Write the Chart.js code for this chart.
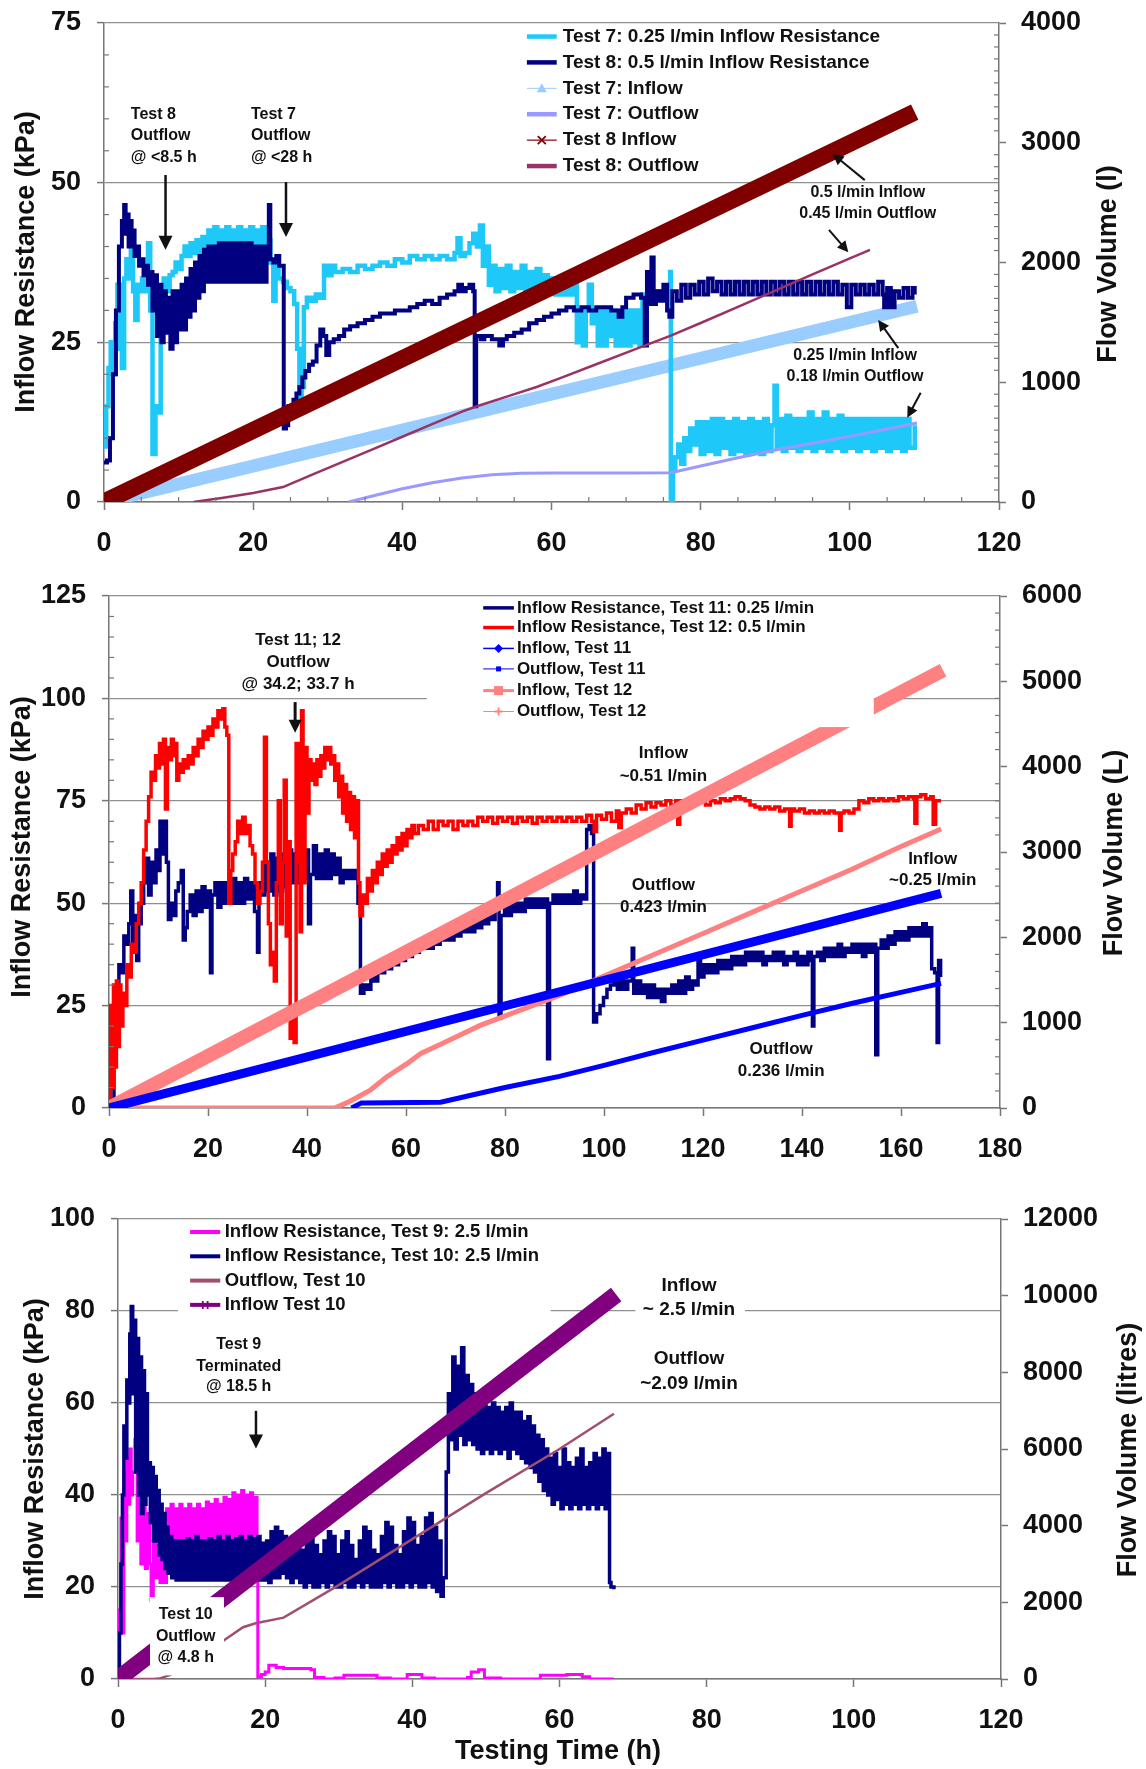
<!DOCTYPE html>
<html>
<head>
<meta charset="utf-8">
<title>Inflow resistance and flow volume, tests 7 to 12</title>
<script src="https://cdn.jsdelivr.net/npm/chart.js@4.4.1/dist/chart.umd.min.js"></script>
<style>
  html, body { margin: 0; padding: 0; background: #fff; }
  #page { position: relative; width: 1146px; height: 1769px; background: #fff; overflow: hidden; }
  #page canvas { position: absolute; left: 0; }
</style>
</head>
<body>
<div id="page">
  <canvas id="panel1" width="1146" height="566" style="top:0;width:1146px;height:566px"></canvas>
  <canvas id="panel2" width="1146" height="614" style="top:566px;width:1146px;height:614px"></canvas>
  <canvas id="panel3" width="1146" height="589" style="top:1180px;width:1146px;height:589px"></canvas>
</div>
<script>
// ---------- panel 1: tests 7 and 8 ----------
const p1TimeTicks = [0, 20, 40, 60, 80, 100, 120];
const p1KpaTicks = [0, 25, 50, 75];
const p1FlowTicks = [0, 1000, 2000, 3000, 4000];

const test7Resistance = [
  [0,8.7],[0.3,15],[0.6,21],[0.9,25],[1.2,20],[1.5,28],[1.8,34],[2.1,24],[2.4,21],[2.7,35],[3,38],[3.3,35],
  [3.6,40],[3.9,33],[4.2,28.5],[4.5,34],[4.8,33],[5.1,35],[5.5,33],[5.9,40.5],[6.2,30],[6.5,7.5],[6.9,15],
  [7.3,14],[7.6,33],[8,35],[8.4,33],[8.8,35.5],[9.2,36],[9.6,37.5],[10,36.5],[10.4,38.5],[10.8,40],[11.2,38.5],
  [11.6,40.5],[12,39],[12.4,41],[12.8,39],[13.2,41.5],[13.6,38.5],[14,42.5],[14.4,38.5],[14.8,43],[15.2,38.5],
  [15.6,42.5],[16,38.5],[16.4,43],[16.8,38.5],[17.2,42.5],[17.6,38.5],[18,43],[18.4,38.5],[18.8,42.5],[19.2,38.5],
  [19.6,43],[20,38.5],[20.4,42.5],[20.8,38.5],[21.2,43],[21.6,39],[22,41],[22.3,37.5],[22.7,31.5],[23,37],
  [23.4,35],[24,34.5],[24.5,33.5],[25,33],[25.5,31],[25.9,24],[26.2,15.5],[26.5,18],[26.8,30.5],[27.2,32],
  [27.8,31.5],[28.4,32.5],[29,32],[29.5,37],[30,35.5],[30.5,37],[31,36],[32,36.5],[33,36],[34,37],[35,36.5],
  [36,37],[37,37.5],[38,37],[39,38],[40,37.5],[41,38.5],[42,38],[43,38.5],[44,38],[45,38.5],[46,38],[47,39],
  [47.4,41.3],[47.8,38.5],[48.4,39],[49,40.5],[49.5,42],[50,40],[50.4,43.3],[50.8,37],[51.2,40],[51.6,34],
  [52,37],[52.5,33],[53,36.5],[53.5,33.5],[54,37],[54.5,33],[55,36],[55.5,33.5],[56,37],[56.5,33],[57,36],
  [57.5,33],[58,36.5],[58.5,32.5],[59,35.5],[59.5,33],[60,35],[60.5,32.5],[61,34.5],[61.5,32.5],[62,34],
  [62.5,32.5],[63,34],[63.4,25],[63.8,30],[64.2,24.5],[64.6,30],[65,34],[65.4,28],[65.8,30],[66.2,24.5],
  [66.6,30],[67,24.5],[67.4,30],[67.8,26],[68.2,30],[68.6,24.5],[69,29],[69.4,24.5],[69.8,30],[70.2,24.5],
  [70.6,30],[71,25],[71.4,30],[71.8,24.5],[72.2,32.5],[73,33],[74,33],[75,33],[75.8,33],[75.9,36],[76,-1.5],
  [76.3,5],[76.6,7],[77,9],[77.4,6],[77.8,10],[78.2,8],[78.6,11.5],[79,9],[79.5,12.5],[80,7.5],[80.5,12.5],
  [81,8],[81.5,13],[82,7.5],[82.5,13],[83,8.5],[83.5,12.5],[84,7.5],[84.5,13],[85,8],[85.5,12.5],[86,7.5],
  [86.5,13],[87,8],[87.5,12.5],[88,7.5],[88.5,13],[89,8],[89.5,12],[89.9,18.2],[90.2,8.5],[90.6,13],[91,8],
  [91.5,13.5],[92,8.5],[92.5,13],[93,8],[93.5,13],[94,8.5],[94.5,14],[95,8],[95.5,13],[96,8.5],[96.5,14],
  [97,8],[97.5,13],[98,8.5],[98.5,13.5],[99,8],[99.5,13],[100,8.5],[100.5,13],[101,8],[101.5,13],[102,8.5],
  [102.5,13],[103,8],[103.5,13],[104,8.5],[104.5,13],[105,8],[105.5,13],[106,8.5],[106.5,13],[107,8],
  [107.5,13],[108,8.5],[108.7,12]
];
const test8Resistance = [
  [0,6.2],[0.4,6.5],[0.8,10],[1.2,20],[1.6,30],[2,40],[2.4,44],[2.7,46.5],[2.9,42],[3.1,45],[3.3,40],[3.5,44],
  [3.7,40],[3.9,42.5],[4.1,38.5],[4.4,40],[4.7,37],[5,38],[5.3,35.5],[5.6,37],[5.9,34],[6.2,36],[6.5,30],
  [6.8,35.5],[7.1,26],[7.4,34],[7.7,25],[8,33],[8.3,26.5],[8.6,32],[8.9,24],[9.2,33],[9.5,25],[9.8,33],
  [10.1,27],[10.4,34],[10.7,27],[11,35],[11.3,29],[11.6,36.5],[11.9,30],[12.2,37.5],[12.5,32],[12.8,38.5],
  [13.1,33],[13.4,39.5],[13.7,34.5],[14,40],[14.3,34.5],[14.6,40],[15,34.5],[15.4,40.5],[15.8,34.5],[16.2,40.5],
  [16.6,34.5],[17,40.5],[17.4,34.5],[17.8,40.5],[18.2,34.5],[18.6,40.5],[19,34.5],[19.4,40.5],[19.8,34.5],
  [20.2,40],[20.6,34.5],[21,40],[21.4,34.5],[21.8,40],[22.1,46.5],[22.3,38],[22.7,37.5],[23.1,38.5],[23.5,37],
  [23.9,37],[24.1,11.5],[24.4,12],[24.7,15],[25,14],[25.4,16],[25.8,17],[26.2,18],[26.6,19.5],[27,20.5],
  [27.5,21.5],[28,22],[28.5,24.5],[29,27],[29.4,26],[29.8,23],[30.2,25],[30.8,25.5],[31.5,26],[32.2,27],
  [33,27.5],[34,28],[35,28.5],[36,29],[37,29.5],[38,29.5],[39,30],[40,30],[41,30.5],[42,31],[43,31.5],[44,31],
  [45,32],[46,32.5],[47,33],[47.5,34],[48,33],[48.5,33.5],[49,34],[49.5,33],[49.7,15],[49.9,26],[50.5,25.5],
  [51,26],[52,25.5],[53,24.5],[53.5,25.5],[54,26],[55,26.5],[56,27],[57,28],[58,28.5],[59,29],[60,29.5],
  [61,30],[62,30.5],[63,30],[64,30.5],[65,30],[66,30.5],[67,30.5],[68,30],[69,29],[69.5,30.5],[70,32],
  [71,32.5],[72,32],[72.5,24.5],[72.8,36],[73.1,31],[73.4,38.3],[73.7,31],[74,33],[74.5,31.5],[75,34],
  [75.5,30],[75.8,29],[76.2,33],[76.8,31.5],[77.4,34],[78,32],[78.6,34],[79.2,32.5],[79.8,34.5],[80.4,32.5],
  [81,35],[81.6,33],[82.2,34.5],[82.8,32.5],[83.4,34.5],[84,32.5],[84.6,34.5],[85.2,32.5],[85.8,34.5],
  [86.4,32.5],[87,34.5],[87.6,32.5],[88.2,34.5],[88.8,32.5],[89.4,34.5],[90,32.5],[90.6,34.5],[91.2,32.5],
  [91.8,34.5],[92.4,32.5],[93,34.5],[93.6,32.5],[94.2,34.5],[94.8,32.5],[95.4,34.5],[96,32.5],[96.6,34.5],
  [97.2,32.5],[97.8,34.5],[98.4,32.5],[99,34],[99.6,30.5],[100.2,34],[100.8,32.5],[101.4,34],[102,32.5],
  [102.6,34],[103.2,32.5],[103.8,34.5],[104.4,32.5],[104.6,30.5],[105,33.5],[105.5,30.5],[106,33],[106.6,32],
  [107.2,33.5],[107.8,32],[108.4,33.5],[108.7,32.5]
];
const test7Inflow = [[0,0],[54.5,818],[109,1635]];
const test7Outflow = [
  [32.8,0],[36,50],[40,110],[44,160],[48,200],[52,228],[56,240],[60,242],[65,243],[70,243],[76,245],
  [80,300],[85,370],[90,434],[95,490],[100,548],[105,610],[109,660]
];
const test8Inflow = [[0,0],[54.4,1628],[108.7,3255]];
const test8Outflow = [
  [12,0],[16,35],[20,75],[24,125],[28,230],[32,335],[36,440],[40,545],[44,650],[48,755],[50,800],[54,880],
  [58,960],[61,1030],[66,1150],[71,1270],[76,1390],[80,1495],[85,1630],[90,1765],[95,1900],[100,2035],[102.7,2105]
];

// ---------- panel 2: tests 11 and 12 ----------
const p2TimeTicks = [0, 20, 40, 60, 80, 100, 120, 140, 160, 180];
const p2KpaTicks = [0, 25, 50, 75, 100, 125];
const p2FlowTicks = [0, 1000, 2000, 3000, 4000, 5000, 6000];

const test11Resistance = [
  [0,0],[0.5,-1],[1,15],[1.5,25],[2,35],[2.5,33],[3,42],[3.5,40],[4,45],[4.4,53],[4.8,40],[5.2,47],[5.6,36],
  [6,45],[6.5,50],[7,55],[7.6,61],[8,52],[8.5,60],[9,55],[9.5,63],[10,58],[10.3,70],[10.8,62],[11.3,70],
  [11.6,60],[12,46],[12.5,50],[13,47],[13.5,53],[14,55],[14.6,58],[15,41],[15.4,44],[15.8,48],[16.4,52],
  [17,47],[17.6,53],[18.2,48],[18.8,54],[19.4,49],[20,53],[20.5,33],[20.8,52],[21.4,55],[22,49],[22.6,55],
  [23.2,50],[23.8,55],[24.4,50],[25,56],[25.6,50],[26.2,55],[26.8,50],[27.4,56],[28,51],[28.7,55],[29.4,48],
  [30,38],[30.3,55],[30.9,52],[31.5,60],[32.1,53],[32.7,62],[33.3,52],[33.9,61],[34.5,53],[35.1,62],[35.7,54],
  [36.3,63],[36.9,55],[37.5,62],[38.1,55],[38.7,64],[39.3,56],[39.9,63],[40.3,45],[40.7,57],[41.3,64],[41.9,56],
  [42.5,62],[43.1,56],[43.7,63],[44.3,56],[44.9,62],[45.5,57],[46.1,61],[46.7,55],[47.3,58],[47.9,56],[48.5,58],
  [49.1,56],[49.7,58],[50.3,50],[50.8,28],[51.5,30],[52.2,29],[52.9,33],[53.6,31],[54.3,35],[55,33],[55.7,36],
  [56.4,34],[57.1,37],[57.8,35],[58.5,38],[59.2,36],[59.9,39],[60.6,37],[61.3,40],[62,38],[62.7,41],[63.4,39],
  [64.1,41],[64.8,39],[65.5,42],[66.2,40],[66.9,43],[67.6,41],[68.3,43],[69,41],[69.7,44],[70.4,42],[71.1,45],
  [71.8,43],[72.5,45],[73.2,43],[73.9,46],[74.6,44],[75.3,47],[76,45],[76.7,48],[77.4,46],[78,49],[78.5,55],
  [78.8,22],[79.2,47],[79.9,49],[80.6,47],[81.3,50],[82,48],[82.7,50],[83.4,48],[84.1,51],[84.8,49],[85.5,51],
  [86.2,49],[86.9,51],[87.6,49],[88.3,51],[88.6,12],[89,50],[89.7,52],[90.4,50],[91.1,52],[91.8,50],[92.5,52],
  [93.2,50],[93.9,53],[94.6,50],[95.3,52],[96,51],[96.5,68],[97,69],[97.5,67],[97.9,21],[98.5,23],[99.2,25],
  [99.9,27],[100.6,29],[101.3,30],[102,31],[102.7,29],[103.4,31],[104.1,29],[104.8,31],[105.7,39],[106,28],
  [106.7,31],[107.4,28],[108.1,30],[108.8,27],[109.5,30],[110.2,27],[110.9,29],[111.6,26],[112.3,29],[113,28],
  [113.7,30],[114.4,28],[115.1,31],[115.8,28],[116.5,32],[117.2,29],[117.9,31],[118.6,30],[119,37],[119.5,32],
  [120.2,35],[120.9,33],[121.6,35],[122.3,33],[123,36],[123.7,34],[124.4,36],[125.1,34],[125.8,37],[126.5,35],
  [127.2,37],[127.9,35],[128.6,38],[129.3,36],[130,38],[130.7,36],[131.4,38],[132.1,35],[132.8,37],[133.5,36],
  [134.2,38],[134.9,36],[135.6,38],[136.3,35],[137,37],[137.7,36],[138.4,38],[139.1,35],[139.8,37],[140.5,35],
  [141.2,38],[141.9,36],[142.1,20],[142.4,37],[143.1,38],[143.8,36],[144.5,39],[145.2,37],[145.9,39],[146.6,37],
  [147.3,40],[148,37],[148.7,39],[149.4,38],[150.1,40],[150.8,38],[151.5,40],[152.2,37],[152.9,40],[153.6,38],
  [154.3,40],[154.9,13],[155.3,39],[156,41],[156.7,39],[157.4,42],[158.1,40],[158.8,43],[159.5,41],[160.2,43],
  [160.9,41],[161.6,44],[162.3,42],[163,44],[163.7,42],[164.4,45],[165.1,42],[165.8,44],[166.2,34],[166.8,33],
  [167.3,16],[167.6,36],[168,32]
];
const test12Resistance = [
  [0,0],[0.3,25],[0.6,5],[0.9,30],[1.2,10],[1.5,31],[1.8,15],[2.1,30],[2.4,20],[2.8,28],[3.2,25],[3.6,35],
  [4,32],[4.5,40],[5,38],[5.5,45],[6,50],[6.5,55],[7,63],[7.5,70],[8,76],[8.5,82],[9,80],[9.4,86],[9.8,83],
  [10.2,89],[10.6,84],[11,90],[11.4,73],[11.8,88],[12.2,85],[12.6,90],[13,86],[13.4,89],[13.7,80],[14.1,84],
  [14.5,82],[15,85],[15.5,83],[16,86],[16.5,84],[17,88],[17.5,86],[18,90],[18.5,88],[19,92],[19.5,90],[20,93],
  [20.5,91],[21,95],[21.5,93],[22,97],[22.5,95],[23,97.5],[23.4,93],[23.8,91],[24.2,50],[24.6,58],[25,62],
  [25.5,65],[26,70],[26.5,67],[27,71],[27.5,67],[28,69],[28.5,64],[29,62],[29.5,55],[30,50],[30.5,53],[31,60],
  [31.4,90.5],[31.8,60],[32.2,45],[32.6,35],[33,38],[33.4,31],[33.8,55],[34.2,75],[34.6,45],[35,60],[35.4,80],
  [35.8,42],[36.2,65],[36.6,17],[37,25],[37.4,16],[37.8,89],[38.2,60],[38.6,43],[38.9,97],[39.2,55],[39.6,88],
  [40,72],[40.4,85],[40.8,80],[41.2,84],[41.6,79],[42,85],[42.4,81],[42.8,86],[43.2,83],[43.6,88],[44,85],
  [44.4,88],[44.8,84],[45.2,86],[45.6,80],[46,84],[46.4,76],[46.8,81],[47.2,72],[47.6,79],[48,70],[48.4,77],
  [48.8,68],[49.2,76],[49.6,66],[50,75],[50.4,55],[50.7,47],[51.2,52],[51.7,50],[52.2,56],[52.7,53],[53.2,58],
  [53.7,55],[54.2,60],[54.7,57],[55.2,62],[55.7,59],[56.2,63],[56.7,60],[57.2,64],[57.7,62],[58.2,66],[58.7,63],
  [59.2,67],[59.7,64],[60.2,68],[60.7,66],[61.2,69],[61.7,67],[62.5,69],[63.5,68],[64.5,70],[65.5,68],[66.5,70],
  [67.5,69],[68.5,70],[69.5,68],[70.5,70],[71.5,69],[72.5,70],[73.5,69],[74.5,71],[75.5,70],[76.5,71],
  [77.5,69.5],[78.5,71],[79.5,70],[80.5,71],[81.5,69.5],[82.5,71],[83.5,70],[84.5,71],[85.5,69.5],[86.5,71],
  [87.5,70],[88.5,71],[89.5,70],[90.5,71],[91.5,70],[92.5,71],[93.5,70],[94.5,71],[95.5,70],[96.5,71.5],
  [97.5,70],[98,67.5],[98.5,71.5],[99.5,70.5],[100.5,72],[101.5,70],[102.5,72.5],[103,68.5],[103.5,72],
  [104.5,73],[105.5,72],[106.5,74],[107.5,73],[108.5,74.5],[109.5,73.5],[110.5,74.5],[111.5,74],[112.5,75],
  [113.5,74],[114.5,75],[114.9,69.3],[115.3,75],[116.5,74.5],[117.5,75.5],[118.5,74.5],[119.5,75],[120.5,74],
  [121.5,75],[122.5,74.5],[123.5,75.5],[124.5,75],[125.5,75.5],[126.5,76],[127.5,75.5],[128.5,75],[129.5,74],
  [130.5,73.5],[131.5,73],[132.5,73.5],[133.5,73],[134.5,73.5],[135.5,72.5],[136.5,73],[137.5,68.8],[137.8,73],
  [138.5,72.5],[139.5,73],[140.5,72],[141.5,72.5],[142.5,72],[143.5,72.5],[144.5,72],[145.5,72.5],[146.5,72],
  [147.6,67.8],[147.9,72],[148.5,72.5],[149.5,72],[150.5,73],[151.5,75],[152.5,74.5],[153.5,75.5],[154.5,75],
  [155.5,75.5],[156.5,75],[157.5,75.5],[158.5,75],[159.5,76],[160.5,75.5],[161.5,76],[162.5,75.5],[162.8,69.5],
  [163.2,76],[164,76.5],[165,75.5],[166,76],[166.5,69.3],[167,75],[168.1,75]
];
const test11Inflow = [[0,0],[84,1257],[168.1,2515]];
const test11Outflow = [
  [49,0],[51,60],[67,68],[80,240],[91,370],[100,500],[110,650],[120,795],[130,940],[140,1085],
  [150,1225],[160,1355],[168.1,1461]
];
const test12Inflow = [[0,0],[84,2557],[168.5,5130]];
const test12Outflow = [
  [0,0],[45.6,0],[48,60],[50,120],[52.7,205],[56,360],[60.2,519],[63,640],[66.9,744],[75,968],[91,1320],
  [100,1545],[110,1795],[120,2045],[130,2295],[140,2545],[150,2795],[160,3065],[168.1,3270]
];

// ---------- panel 3: tests 9 and 10 ----------
const p3TimeTicks = [0, 20, 40, 60, 80, 100, 120];
const p3KpaTicks = [0, 20, 40, 60, 80, 100];
const p3FlowTicks = [0, 2000, 4000, 6000, 8000, 10000, 12000];

const test9Resistance = [
  [0,0],[0.2,15],[0.4,35],[0.6,10],[0.8,45],[1,30],[1.2,48],[1.4,38],[1.6,50],[1.8,40],[2,45],[2.3,52],
  [2.6,30],[2.9,50],[3.1,25],[3.4,40],[3.7,24],[4,36],[4.3,25],[4.5,17],[4.8,30],[5.1,22],[5.4,29],[5.7,21],
  [6,28],[6.3,21],[6.6,37],[6.9,28],[7.2,38],[7.5,29],[7.8,37],[8.1,29],[8.4,38],[8.7,29],[9,37],[9.3,29],
  [9.6,38],[9.9,29],[10.2,37],[10.5,29],[10.8,38],[11.1,29],[11.4,37],[11.7,29],[12,38.5],[12.3,29],[12.6,38],
  [12.9,29],[13.2,39],[13.5,29],[13.8,38],[14.1,29],[14.4,39.5],[14.7,29],[15,39],[15.3,29],[15.6,40.5],
  [15.9,29],[16.2,40],[16.5,29],[16.8,41],[17.1,29],[17.4,40],[17.7,29],[18,40.5],[18.3,29],[18.6,39.5],
  [18.9,29],[19,0.5],[19.5,1],[20,1.5],[20.5,3],[21.5,2.5],[22.5,2.3],[23.5,2.3],[24.5,2.3],[25.5,2.3],
  [26.2,2],[26.7,0.3],[28,0],[29.5,0.2],[30.7,0.8],[32,0.8],[33.5,0.8],[35.2,0.2],[37,0],[39.3,1],[40.5,1],
  [41.3,0.2],[43,0],[45,0],[47.5,0.3],[48,1.5],[49,2],[49.8,0.2],[52,0],[54,0],[56,0],[57.4,0.8],[59,0.8],
  [61,1],[62.6,1],[63.1,0.5],[64.1,0],[66,0],[67.4,0]
];
const test10Resistance = [
  [0,0],[0.2,10],[0.4,25],[0.6,40],[0.8,55],[1,48],[1.2,65],[1.4,60],[1.6,75],[1.8,81],[2,62],[2.2,78],
  [2.4,45],[2.6,74],[2.8,40],[3,70],[3.2,36],[3.4,67],[3.6,38],[3.8,62],[4,40],[4.2,47],[4.4,34],[4.6,46],
  [4.8,30],[5,44],[5.2,30],[5.4,41],[5.6,27],[5.8,38],[6,26],[6.2,36],[6.4,24],[6.6,33],[6.8,23],[7,31],
  [7.3,22],[7.6,30],[7.9,21.5],[8.2,30],[8.5,21.5],[8.8,30],[9.1,21.5],[9.4,30.5],[9.7,21.5],[10,30],
  [10.3,21.5],[10.6,31],[10.9,21.5],[11.2,30],[11.5,21.5],[11.8,30],[12.1,21.5],[12.4,30.5],[12.7,21.5],
  [13,30],[13.3,21.5],[13.6,31],[13.9,21.5],[14.2,30],[14.5,21.5],[14.8,31],[15.1,21.5],[15.4,30],[15.7,21.5],
  [16,30.5],[16.3,21.5],[16.6,31],[16.9,21.5],[17.2,30],[17.5,21.5],[17.8,31],[18.1,21.5],[18.4,30.5],
  [18.7,21.5],[19,31],[19.3,21.5],[19.6,29.5],[19.9,21.5],[20.2,30],[20.5,21],[20.8,32],[21.1,22],[21.4,33],
  [21.7,22],[22,32],[22.3,23],[22.6,31],[22.9,22],[23.2,30],[23.5,21],[23.8,28],[24.1,22],[24.4,29],[24.7,21],
  [25,28],[25.3,20],[25.6,31],[25.9,21],[26.2,32],[26.5,20],[26.8,29],[27.1,20],[27.4,27],[27.7,21],[28,30],
  [28.3,20],[28.6,32],[28.9,21],[29.2,31],[29.5,20],[29.8,27],[30.1,20],[30.4,30],[30.7,21],[31,32],[31.3,20],
  [31.6,29],[31.9,20],[32.2,26],[32.5,21],[32.8,30],[33.1,20],[33.4,33],[33.7,21],[34,32],[34.3,20],[34.6,28],
  [34.9,20],[35.2,27],[35.5,20],[35.8,31],[36.1,21],[36.4,34],[36.7,20],[37,33],[37.3,21],[37.6,29],[37.9,20],
  [38.2,27],[38.5,20],[38.8,32],[39.1,21],[39.4,35],[39.7,20],[40,34],[40.3,21],[40.6,29],[40.9,20],[41.2,31],
  [41.5,20],[41.8,35],[42.1,21],[42.4,36],[42.7,20],[43,33],[43.3,19],[43.6,30],[43.9,18],[44.2,22],[44.6,45],
  [44.9,62],[45.2,52],[45.5,70],[45.8,50],[46.1,68],[46.4,53],[46.7,72],[47,51],[47.3,66],[47.6,52],[47.9,64],
  [48.2,51],[48.5,62],[48.8,50],[49.1,61],[49.4,49],[49.7,60],[50,50],[50.3,59],[50.6,49],[50.9,60],[51.2,50],
  [51.5,59],[51.8,49],[52.1,58],[52.4,50],[52.7,59],[53,48],[53.3,60],[53.6,50],[53.9,58],[54.2,49],[54.5,58],
  [54.8,48],[55.1,56],[55.4,47],[55.7,57],[56,46],[56.3,55],[56.6,45],[56.9,53],[57.2,43],[57.5,52],[57.8,41],
  [58.1,50],[58.4,40],[58.7,48],[59,38],[59.3,49],[59.6,39],[59.9,46],[60.2,37],[60.5,50],[60.8,38],[61.1,47],
  [61.4,37],[61.7,46],[62,38],[62.3,48],[62.6,37],[62.9,50],[63.2,38],[63.5,46],[63.8,37],[64.1,47],[64.4,38],
  [64.7,49],[65,37],[65.3,48],[65.6,38],[65.9,50],[66.2,37],[66.6,49],[66.8,21],[67,20],[67.4,19.5]
];
const test10Outflow = [
  [0,0],[4.8,0],[5.6,10],[7,100],[10,400],[14.4,1012],[17,1350],[18.7,1453],[22.5,1600],[30,2450],
  [40,3650],[50,4850],[60,6000],[67.4,6920]
];
const test10Inflow = [[0,0],[34,5040],[67.7,10030]];

// ---------- drawing ----------
const FONT = '"Liberation Sans", Arial, Helvetica, sans-serif';
const INK = '#111';
const AXIS = '#777';
const GRID = '#8f8f8f';
const TICK_FONT = { family: FONT, size: 27, weight: 'bold' };
Chart.defaults.font.family = FONT;

function drawMarker(ctx, kind, x, y, color, size) {
  ctx.save();
  ctx.fillStyle = color;
  ctx.strokeStyle = color;
  ctx.lineWidth = 1.8;
  ctx.beginPath();
  if (kind === 'triangle') {
    ctx.moveTo(x, y - size); ctx.lineTo(x + size, y + size * 0.8); ctx.lineTo(x - size, y + size * 0.8);
    ctx.closePath(); ctx.fill();
  } else if (kind === 'cross') {
    ctx.moveTo(x - size, y - size); ctx.lineTo(x + size, y + size);
    ctx.moveTo(x + size, y - size); ctx.lineTo(x - size, y + size); ctx.stroke();
  } else if (kind === 'diamond') {
    ctx.moveTo(x, y - size); ctx.lineTo(x + size, y); ctx.lineTo(x, y + size); ctx.lineTo(x - size, y);
    ctx.closePath(); ctx.fill();
  } else if (kind === 'square') {
    ctx.fillRect(x - size, y - size, size * 2, size * 2);
  } else if (kind === 'plus') {
    ctx.moveTo(x - size, y); ctx.lineTo(x + size, y); ctx.moveTo(x, y - size); ctx.lineTo(x, y + size); ctx.stroke();
  } else if (kind === 'star') {
    ctx.moveTo(x - size * 0.6, y - size); ctx.lineTo(x - size * 0.6, y + size);
    ctx.moveTo(x + size * 0.6, y - size); ctx.lineTo(x + size * 0.6, y + size); ctx.stroke();
  }
  ctx.restore();
}

const extras = {
  id: 'extras',
  afterDatasetsDraw(chart, args, o) {
    const { ctx, chartArea: area } = chart;
    const sx = chart.scales.x, sy = chart.scales.y;
    const px = t => sx.getPixelForValue(t);
    const py = v => sy.getPixelForValue(v);
    ctx.save();

    // minor ticks point inwards
    ctx.strokeStyle = AXIS;
    ctx.lineWidth = 1.2;
    Object.entries(o.minor || {}).forEach(([id, step]) => {
      const s = chart.scales[id];
      const majors = s.ticks.map(t => t.value);
      for (let v = s.min + step; v < s.max; v += step) {
        if (majors.includes(v)) continue;
        const p = s.getPixelForValue(v);
        ctx.beginPath();
        if (id === 'x') { ctx.moveTo(p, area.bottom); ctx.lineTo(p, area.bottom - 5); }
        else if (id === 'y') { ctx.moveTo(area.left, p); ctx.lineTo(area.left + 5, p); }
        else { ctx.moveTo(area.right, p); ctx.lineTo(area.right - 5, p); }
        ctx.stroke();
      }
    });

    // white patches behind the legend and some notes
    ctx.fillStyle = '#fff';
    (o.boxes || []).forEach(b => {
      const x0 = px(b.t[0]), x1 = px(b.t[1]), y0 = py(b.v[1]), y1 = py(b.v[0]);
      ctx.fillRect(x0, y0, x1 - x0, y1 - y0);
    });

    // legend
    const lg = o.legend;
    ctx.textBaseline = 'middle';
    ctx.textAlign = 'left';
    ctx.font = `bold ${lg.size}px ${FONT}`;
    chart.data.datasets.forEach((ds, i) => {
      const yy = py(lg.rows[i]);
      const xa = px(lg.line[0]), xb = px(lg.line[1]);
      ctx.strokeStyle = ds.borderColor;
      ctx.lineWidth = ds.legendWidth;
      ctx.beginPath(); ctx.moveTo(xa, yy); ctx.lineTo(xb, yy); ctx.stroke();
      if (ds.marker) drawMarker(ctx, ds.marker, (xa + xb) / 2, yy, ds.borderColor, ds.markerSize);
      ctx.fillStyle = INK;
      ctx.fillText(ds.label, px(lg.text), yy);
    });

    // notes
    ctx.fillStyle = INK;
    (o.notes || []).forEach(n => {
      ctx.font = `bold ${n.size}px ${FONT}`;
      ctx.textAlign = n.align || 'center';
      n.lines.forEach((txt, k) => ctx.fillText(txt, px(n.t), py(n.v[k])));
    });

    // arrows
    ctx.strokeStyle = INK;
    (o.arrows || []).forEach(a => {
      const x0 = px(a.from[0]), y0 = py(a.from[1]), x1 = px(a.to[0]), y1 = py(a.to[1]);
      const ang = Math.atan2(y1 - y0, x1 - x0);
      const c = Math.cos(ang), s = Math.sin(ang);
      const hl = a.head, hw = a.head * 0.5;
      ctx.lineWidth = a.width;
      ctx.beginPath(); ctx.moveTo(x0, y0); ctx.lineTo(x1 - hl * 0.8 * c, y1 - hl * 0.8 * s); ctx.stroke();
      ctx.beginPath();
      ctx.moveTo(x1, y1);
      ctx.lineTo(x1 - hl * c + hw * s, y1 - hl * s - hw * c);
      ctx.lineTo(x1 - hl * c - hw * s, y1 - hl * s + hw * c);
      ctx.closePath(); ctx.fill();
    });
    ctx.restore();
  },
  afterDraw(chart, args, o) {
    const ctx = chart.ctx;
    (o.titles || []).forEach(t => {
      ctx.save();
      ctx.translate(t.x, t.y);
      ctx.rotate(t.rot || 0);
      ctx.font = `bold 27px ${FONT}`;
      ctx.fillStyle = INK;
      ctx.textAlign = 'center';
      ctx.textBaseline = 'middle';
      ctx.fillText(t.text, 0, 0);
      ctx.restore();
    });
  }
};

const fixedTicks = arr => ({
  min: arr[0],
  max: arr[arr.length - 1],
  afterBuildTicks: scale => { scale.ticks = arr.map(value => ({ value })); },
});

// fixed box sizes so the plot frame lands where the original has it
const fixWidth = w => s => { s.width = w; s.paddingTop = 0; s.paddingBottom = 0; };
const fixHeight = h => s => { s.height = h; s.paddingLeft = 0; s.paddingRight = 0; };

function buildPanel(id, p) {
  return new Chart(document.getElementById(id), {
    type: 'line',
    data: {
      datasets: p.series.map(s => ({
        label: s.label,
        data: s.data.map(([x, y]) => ({ x, y })),
        yAxisID: s.axis,
        borderColor: s.color,
        backgroundColor: s.color,
        borderWidth: s.width,
        stepped: !!s.stepped,
        borderJoinStyle: 'miter',
        pointRadius: 0,
        order: s.z,
        marker: s.marker || null,
        markerSize: s.markerSize || 0,
        legendWidth: s.legendWidth,
      })),
    },
    options: {
      responsive: false,
      animation: false,
      devicePixelRatio: 1,
      layout: { padding: { top: p.top, left: 0, right: 0, bottom: 0 } },
      plugins: { legend: { display: false }, tooltip: { enabled: false }, extras: p.extras },
      scales: {
        x: {
          type: 'linear',
          position: 'bottom',
          ...fixedTicks(p.xTicks),
          afterFit: fixHeight(p.xHeight),
          ticks: { font: TICK_FONT, color: INK, padding: 17, maxRotation: 0, autoSkip: false, callback: v => String(v) },
          grid: { drawOnChartArea: false, tickLength: 8, tickColor: AXIS, tickWidth: 1.5 },
          border: { color: AXIS, width: 1.5 },
        },
        y: {
          type: 'linear',
          position: 'left',
          ...fixedTicks(p.yTicks),
          afterFit: fixWidth(p.leftWidth),
          ticks: { font: TICK_FONT, color: INK, padding: 16, autoSkip: false, callback: v => String(v) },
          grid: { color: GRID, lineWidth: 1.2, tickLength: 7, tickColor: AXIS, tickWidth: 1.5 },
          border: { color: AXIS, width: 1.5 },
        },
        y2: {
          type: 'linear',
          position: 'right',
          ...fixedTicks(p.y2Ticks),
          afterFit: fixWidth(p.rightWidth),
          ticks: { font: TICK_FONT, color: INK, padding: 15, autoSkip: false, callback: v => String(v) },
          grid: { drawOnChartArea: false, tickLength: 7, tickColor: AXIS, tickWidth: 1.5 },
          border: { color: AXIS, width: 1.5 },
        },
      },
    },
    plugins: [extras],
  });
}

const HALF_TURN = -Math.PI / 2;

buildPanel('panel1', {
  top: 23, xHeight: 64, leftWidth: 104, rightWidth: 147,
  xTicks: p1TimeTicks, yTicks: p1KpaTicks, y2Ticks: p1FlowTicks,
  series: [
    { label: 'Test 7: 0.25 l/min Inflow Resistance', data: test7Resistance, axis: 'y', color: '#1ec8f8', width: 4.5, stepped: true, z: 5, legendWidth: 4.5 },
    { label: 'Test 8: 0.5 l/min Inflow Resistance', data: test8Resistance, axis: 'y', color: '#000080', width: 4, stepped: true, z: 4, legendWidth: 4.5 },
    { label: 'Test 7: Inflow', data: test7Inflow, axis: 'y2', color: '#99ccff', width: 13, z: 6, legendWidth: 1, marker: 'triangle', markerSize: 5 },
    { label: 'Test 7: Outflow', data: test7Outflow, axis: 'y2', color: '#9999ff', width: 3, z: 3, legendWidth: 4.5 },
    { label: 'Test 8 Inflow', data: test8Inflow, axis: 'y2', color: '#800000', width: 17, z: 2, legendWidth: 1.2, marker: 'cross', markerSize: 4 },
    { label: 'Test 8: Outflow', data: test8Outflow, axis: 'y2', color: '#993366', width: 2.5, z: 1, legendWidth: 4.5 },
  ],
  extras: {
    minor: { x: 5, y: 5, y2: 100 },
    boxes: [],
    legend: { size: 19, rows: [72.88, 68.83, 64.77, 60.72, 56.66, 52.6], line: [56.7, 60.7], text: 61.5 },
    notes: [
      { lines: ['Test 8', 'Outflow', '@ <8.5 h'], t: 3.6, v: [60.7, 57.3, 54], size: 16, align: 'left' },
      { lines: ['Test 7', 'Outflow', '@ <28 h'], t: 19.7, v: [60.7, 57.3, 54], size: 16, align: 'left' },
      { lines: ['0.5 l/min Inflow', '0.45 l/min Outflow'], t: 102.4, v: [48.4, 45.1], size: 16 },
      { lines: ['0.25 l/min Inflow', '0.18 l/min Outflow'], t: 100.7, v: [23, 19.7], size: 16 },
    ],
    arrows: [
      { from: [8.25, 51.2], to: [8.25, 39.5], head: 14, width: 2.5 },
      { from: [24.4, 50.1], to: [24.4, 41.5], head: 14, width: 2.5 },
      { from: [102, 50.4], to: [97.7, 54.5], head: 11, width: 2 },
      { from: [97.2, 42.6], to: [99.8, 39.1], head: 11, width: 2 },
      { from: [106.5, 24.1], to: [103.8, 28.5], head: 11, width: 2 },
      { from: [109.5, 17.1], to: [107.7, 13.2], head: 11, width: 2 },
    ],
    titles: [
      { text: 'Inflow Resistance (kPa)', x: 27, y: 262, rot: HALF_TURN },
      { text: 'Flow Volume (l)', x: 1109, y: 264, rot: HALF_TURN },
    ],
  },
});

buildPanel('panel2', {
  top: 30, xHeight: 72, leftWidth: 109, rightWidth: 146,
  xTicks: p2TimeTicks, yTicks: p2KpaTicks, y2Ticks: p2FlowTicks,
  series: [
    { label: 'Inflow Resistance, Test 11: 0.25 l/min', data: test11Resistance, axis: 'y', color: '#000080', width: 3.5, stepped: true, z: 6, legendWidth: 3.5 },
    { label: 'Inflow Resistance, Test 12: 0.5 l/min', data: test12Resistance, axis: 'y', color: '#ff0000', width: 3.5, stepped: true, z: 5, legendWidth: 3.5 },
    { label: 'Inflow, Test 11', data: test11Inflow, axis: 'y2', color: '#0000ff', width: 9, z: 1, legendWidth: 1.5, marker: 'diamond', markerSize: 4.5 },
    { label: 'Outflow, Test 11', data: test11Outflow, axis: 'y2', color: '#0000ff', width: 5, z: 2, legendWidth: 1, marker: 'square', markerSize: 2.5 },
    { label: 'Inflow, Test 12', data: test12Inflow, axis: 'y2', color: '#ff8080', width: 14, z: 3, legendWidth: 3, marker: 'square', markerSize: 4.5 },
    { label: 'Outflow, Test 12', data: test12Outflow, axis: 'y2', color: '#ff8080', width: 5, z: 4, legendWidth: 1, marker: 'plus', markerSize: 4 },
  ],
  extras: {
    minor: { y: 5, y2: 200 },
    boxes: [{ t: [64.2, 154.5], v: [93, 124] }],
    legend: { size: 17, rows: [122.1, 117.3, 112.2, 107.2, 101.9, 96.8], line: [75.6, 81.8], text: 82.4 },
    notes: [
      { lines: ['Test 11; 12', 'Outflow', '@ 34.2; 33.7 h'], t: 38.2, v: [114.3, 108.9, 103.5], size: 17 },
      { lines: ['Inflow', '~0.51 l/min'], t: 112, v: [86.5, 81.1], size: 17 },
      { lines: ['Outflow', '0.423 l/min'], t: 112, v: [54.3, 48.9], size: 17 },
      { lines: ['Inflow', '~0.25 l/min'], t: 166.4, v: [60.8, 55.5], size: 17 },
      { lines: ['Outflow', '0.236 l/min'], t: 135.8, v: [14.4, 9], size: 17 },
    ],
    arrows: [
      { from: [37.6, 99.1], to: [37.6, 91.6], head: 13, width: 3 },
    ],
    titles: [
      { text: 'Inflow Resistance (kPa)', x: 23, y: 281, rot: HALF_TURN },
      { text: 'Flow Volume (L)', x: 1115, y: 287, rot: HALF_TURN },
    ],
  },
});

buildPanel('panel3', {
  top: 39, xHeight: 90, leftWidth: 118, rightWidth: 145,
  xTicks: p3TimeTicks, yTicks: p3KpaTicks, y2Ticks: p3FlowTicks,
  series: [
    { label: 'Inflow Resistance, Test 9: 2.5 l/min', data: test9Resistance, axis: 'y', color: '#ff00ff', width: 3, stepped: true, z: 4, legendWidth: 4 },
    { label: 'Inflow Resistance, Test 10: 2.5 l/min', data: test10Resistance, axis: 'y', color: '#000080', width: 3.5, stepped: true, z: 3, legendWidth: 4 },
    { label: 'Outflow, Test 10', data: test10Outflow, axis: 'y2', color: '#a0506e', width: 2.5, z: 2, legendWidth: 4 },
    { label: 'Inflow Test 10', data: test10Inflow, axis: 'y2', color: '#800080', width: 17, z: 1, legendWidth: 4, marker: 'star', markerSize: 4 },
  ],
  extras: {
    minor: {},
    boxes: [
      { t: [8.15, 58.8], v: [78.9, 99.6] },
      { t: [4.35, 14.4], v: [0.8, 17.8] },
      { t: [70.3, 85.2], v: [77.6, 88] },
    ],
    legend: { size: 18.5, rows: [97.17, 91.89, 86.61, 81.33], line: [9.8, 13.9], text: 14.5 },
    notes: [
      { lines: ['Test 9', 'Terminated', '@ 18.5 h'], t: 16.4, v: [72.8, 68, 63.6], size: 16 },
      { lines: ['Test 10', 'Outflow', '@ 4.8 h'], t: 9.2, v: [13.9, 9.3, 4.6], size: 16 },
      { lines: ['Inflow', '~ 2.5 l/min'], t: 77.6, v: [85.4, 80.2], size: 19 },
      { lines: ['Outflow', '~2.09 l/min'], t: 77.6, v: [69.6, 64.2], size: 19 },
    ],
    arrows: [
      { from: [18.75, 58.3], to: [18.75, 50.1], head: 14, width: 2.5 },
    ],
    titles: [
      { text: 'Inflow Resistance (kPa)', x: 36, y: 269, rot: HALF_TURN },
      { text: 'Flow Volume (litres)', x: 1129, y: 270, rot: HALF_TURN },
      { text: 'Testing Time (h)', x: 558, y: 572, rot: 0 },
    ],
  },
});
</script>
</body>
</html>
